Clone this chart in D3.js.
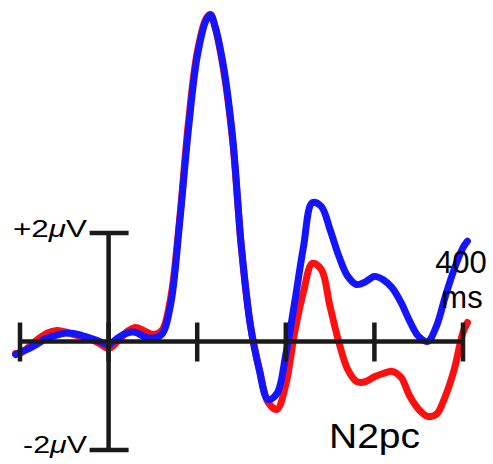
<!DOCTYPE html>
<html>
<head>
<meta charset="utf-8">
<script src="https://cdn.jsdelivr.net/npm/d3@7"></script>
<style>
  html, body { margin: 0; padding: 0; background: #fff; }
  svg { display: block; }
  text { font-family: "Liberation Sans", Arial, sans-serif; fill: #000; }
</style>
</head>
<body>
<script>
// Grand-average ERP waveforms (µV), -100 .. 400 ms
const times = [-105, -100, -90, -80, -70, -60, -50, -40, -30, -20, -10,
  0, 10, 20, 30, 40, 50, 60, 70, 80, 90, 100, 110, 115, 120, 130, 140, 150,
  160, 170, 180, 190, 200, 210, 220, 230, 240, 250, 260, 270, 280, 290,
  300, 310, 320, 330, 340, 350, 360, 370, 380, 390, 400, 405];

// contralateral waveform (red)
const contra = [-0.22, -0.22, -0.10, 0.04, 0.15, 0.20, 0.18, 0.13, 0.09, 0.04, -0.04,
  -0.13, 0.00, 0.17, 0.26, 0.20, 0.13, 0.20, 0.80, 2.22, 4.02, 5.33, 5.95, 6.03, 5.80, 4.98, 3.70, 1.70,
  0.30, -0.50, -1.12, -1.25, -0.79, 0.17, 0.92, 1.44, 1.33, 0.64, -0.02, -0.52, -0.74, -0.74,
  -0.65, -0.59, -0.55, -0.66, -1.01, -1.25, -1.38, -1.34, -1.01, -0.52, 0.17, 0.35];

// ipsilateral waveform (blue)
const ipsi = [-0.24, -0.20, -0.13, -0.04, 0.06, 0.11, 0.15, 0.15, 0.11, 0.06, 0.00,
  -0.06, 0.06, 0.15, 0.17, 0.09, 0.06, 0.13, 0.68, 2.16, 3.89, 5.25, 5.92, 6.02, 5.82, 5.04, 3.76, 1.73,
  0.31, -0.52, -1.07, -0.96, -0.24, 0.72, 1.75, 2.56, 2.49, 2.06, 1.57, 1.20, 1.05, 1.10,
  1.20, 1.14, 0.99, 0.72, 0.37, 0.09, 0.00, 0.28, 0.83, 1.33, 1.73, 1.85];

const xTicks = [-100, 0, 100, 200, 300, 400];
const yRange = [-2, 2];

const W = 493, H = 464;
const svg = d3.select("body").append("svg")
  .attr("width", W).attr("height", H);

const x = d3.scaleLinear().domain([-100, 400]).range([20, 463]);
const y = d3.scaleLinear().domain(yRange).range([450, 233]);

const line = d3.line()
  .x((d, i) => x(times[i]))
  .y(d => y(d))
  .curve(d3.curveCatmullRom.alpha(0.5));

const waves = svg.append("g");
waves.append("path")
  .attr("d", line(contra))
  .attr("fill", "none")
  .attr("stroke", "#ff1010")
  .attr("stroke-width", 7)
  .attr("stroke-linecap", "round")
  .attr("stroke-linejoin", "round");
waves.append("path")
  .attr("d", line(ipsi))
  .attr("fill", "none")
  .attr("stroke", "#1414ff")
  .attr("stroke-width", 7)
  .attr("stroke-linecap", "round")
  .attr("stroke-linejoin", "round");

// time axis with ticks crossing the baseline
const axes = svg.append("g")
  .attr("stroke", "#1a1a1a")
  .attr("stroke-width", 4.5);
axes.append("line")
  .attr("x1", x(-100) - 2).attr("x2", x(400) + 2)
  .attr("y1", y(0)).attr("y2", y(0));
axes.selectAll("line.tick")
  .data(xTicks)
  .join("line")
  .attr("class", "tick")
  .attr("x1", d => x(d)).attr("x2", d => x(d))
  .attr("y1", y(0) - 19).attr("y2", y(0) + 20);

// amplitude scale bar at 0 ms
axes.append("line")
  .attr("x1", x(0)).attr("x2", x(0))
  .attr("y1", y(yRange[0])).attr("y2", y(yRange[1]));
axes.selectAll("line.cap")
  .data(yRange)
  .join("line")
  .attr("class", "cap")
  .attr("x1", x(0) - 19).attr("x2", x(0) + 20)
  .attr("y1", d => y(d)).attr("y2", d => y(d));

// labels
function uvLabel(txt, v, xEnd, len, dy) {
  const t = svg.append("text")
    .attr("x", xEnd - len).attr("y", y(v) + dy)
    .attr("font-size", 24)
    .attr("textLength", len)
    .attr("lengthAdjust", "spacingAndGlyphs");
  t.append("tspan").text(txt);
  t.append("tspan").attr("font-style", "italic").text("\u03BC");
  t.append("tspan").text("V");
}
uvLabel("+2", 2, 87, 74, 4);
uvLabel("-2", -2, 87, 64, 3);

svg.append("text")
  .attr("x", x(400) - 2).attr("y", 273)
  .attr("text-anchor", "middle")
  .attr("font-size", 31)
  .text("400");
svg.append("text")
  .attr("x", x(400) - 1).attr("y", 308)
  .attr("text-anchor", "middle")
  .attr("font-size", 31)
  .text("ms");

svg.append("text")
  .attr("x", 329).attr("y", 448)
  .attr("font-size", 35)
  .attr("textLength", 91)
  .attr("lengthAdjust", "spacingAndGlyphs")
  .text("N2pc");
</script>
</body>
</html>
